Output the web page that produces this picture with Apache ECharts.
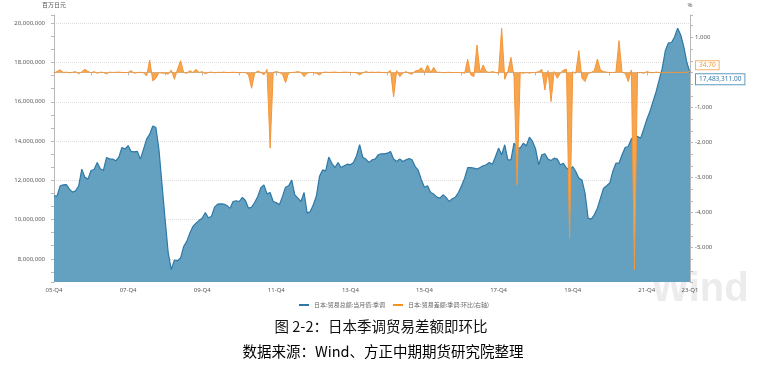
<!DOCTYPE html>
<html><head><meta charset="utf-8">
<script src="https://cdn.jsdelivr.net/npm/echarts@6.0.0/dist/echarts.min.js"></script>
<style>html,body{margin:0;padding:0;background:#fff}#c{width:757px;height:365px}</style>
</head><body><div id="c"></div>
<script>
// 日本:贸易总额:当月值:季调 (百万日元), monthly from 2005-12 to 2023-02
const tradeTotal = [
11210000,11200000,11720000,11770000,11780000,11550000,11400000,11470000,11720000,12570000,
12160000,12060000,12500000,12550000,12910000,12590000,12500000,13160000,13090000,13080000,
12990000,13180000,13670000,13590000,13770000,13470000,13450000,13470000,13080000,13590000,
14100000,14350000,14770000,14690000,13550000,11770000,9990000,8300000,7450000,7940000,
7900000,8040000,8630000,8890000,9310000,9650000,9820000,9960000,10070000,10360000,
10090000,10160000,10630000,10790000,10800000,10790000,10720000,10570000,10920000,10960000,
10920000,11130000,10970000,10580000,10630000,10870000,11180000,11620000,11770000,11310000,
11380000,10920000,10870000,10750000,11180000,11650000,11720000,12010000,11260000,11090000,
10920000,11380000,10330000,10410000,10750000,11210000,12200000,12530000,12480000,13180000,
12870000,12650000,12910000,12650000,12740000,12820000,12790000,12910000,13250000,13810000,
13180000,13080000,12910000,13040000,13080000,13300000,13350000,13350000,13380000,13470000,
13080000,12960000,13090000,12960000,13040000,13110000,13040000,12700000,12500000,12020000,
11650000,11720000,11380000,11300000,11140000,11090000,11260000,11130000,10920000,11060000,
11140000,11380000,11720000,12110000,12650000,12650000,12620000,12570000,12650000,12740000,
12790000,12910000,12820000,13210000,13640000,13300000,13810000,13040000,13040000,13890000,
13670000,13640000,13890000,13760000,14200000,13980000,13590000,12790000,13300000,13350000,
13080000,13010000,13130000,13080000,12790000,12870000,12620000,12530000,12700000,12450000,
12110000,12020000,11350000,10070000,10020000,10240000,10580000,11090000,11600000,11720000,
11860000,12450000,12870000,12870000,13300000,13670000,13720000,14100000,14270000,14230000,
14150000,14600000,15100000,15500000,16000000,16500000,17100000,17700000,18600000,19000000,
19020000,19300000,19750000,19400000,18800000,18000000,17483311
];
// 日本:贸易差额:季调:环比 (%), right axis
const balanceMoM = [
-20,30,76,0,10,-10,5,24,-40,20,
90,30,-10,24,-24,10,0,-40,10,0,
5,10,0,-5,0,52,-24,0,5,-10,
-100,355,-242,-166,0,-20,-20,-50,70,-195,
90,337,0,-24,52,0,90,0,24,-40,
0,10,-10,5,0,10,-5,0,5,0,
-10,0,0,-71,-451,-24,43,0,-71,90,
-2160,0,24,0,-50,-290,-10,0,5,24,
0,-119,-20,0,0,-24,-71,0,10,0,
5,10,0,0,10,5,0,0,-10,-71,
-10,24,0,10,0,10,0,-5,0,52,
-698,52,-119,-20,24,-24,-50,43,60,137,
0,214,0,147,0,10,-10,0,5,-5,
0,0,0,-24,375,-71,-119,784,0,214,
24,0,24,0,-20,1258,-195,24,432,-119,
-3206,0,-24,0,-20,0,0,24,90,-500,
52,-832,24,-166,-24,71,90,-4725,20,-24,
622,-166,-261,-30,0,52,385,71,24,10,
0,0,5,907,0,-24,-261,71,-5629,0,
0,-24,24,0,-10,10,0,-10,5,0,
10,0,5,-5,10,0,34.70
];
const seriesNames = ['日本:贸易总额:当月值:季调', '日本:贸易差额:季调:环比(右轴)'];
const leftAxisName = '百万日元';
const rightAxisName = '%';
// month categories: 2005-12 ... 2023-02
const months = tradeTotal.map(function (_, i) {
  const t = 2005 * 12 + 11 + i;
  const y = Math.floor(t / 12), m = t % 12 + 1;
  return y + '-' + (m < 10 ? '0' + m : m);
});
function quarterLabel(s) {
  const y = s.slice(2, 4), m = parseInt(s.slice(5), 10);
  return y + '-Q' + Math.ceil(m / 3);
}
const lastIdx = months.length - 1;

const chart = echarts.init(document.getElementById('c'), null, {renderer: 'canvas'});
const axisGray = '#b8b8b8';
const labelColor = '#595959';
const numFont = 'Noto Sans';
chart.setOption({
  animation: false,
  backgroundColor: '#fff',
  grid: {left: 54, right: 67, top: 15, bottom: 83},
  legend: {
    left: 294, top: 297, itemWidth: 10, itemHeight: 2, itemGap: 8, icon: 'rect',
    textStyle: {fontSize: 6, color: '#666', fontFamily: 'Noto Sans CJK SC'},
    data: seriesNames
  },
  xAxis: {
    type: 'category', data: months, boundaryGap: false,
    axisLine: {lineStyle: {color: axisGray, width: 1}},
    axisTick: {length: 3, lineStyle: {color: axisGray},
      interval: function (i) { return i % 12 === 0 || i === lastIdx; }},
    axisLabel: {fontSize: 6, color: labelColor, margin: 5, fontFamily: numFont,
      interval: function (i) { return i % 24 === 0 || i === lastIdx; },
      formatter: function (v) { return quarterLabel(v); }},
    splitLine: {show: false}
  },
  yAxis: [{
    type: 'value', min: 6820000, max: 20420000, splitNumber: 7,
    name: leftAxisName, nameGap: 7,
    nameTextStyle: {fontSize: 6, color: labelColor, fontFamily: 'Noto Sans CJK SC'},
    axisLine: {show: true, lineStyle: {color: axisGray}},
    axisTick: {show: true, length: 3, lineStyle: {color: axisGray}},
    minorTick: {show: true, splitNumber: 3, length: 3, lineStyle: {color: axisGray}},
    axisLabel: {fontSize: 6, color: labelColor, margin: 9, fontFamily: numFont,
      showMinLabel: false, showMaxLabel: false,
      formatter: function (v) { return Math.round(v).toLocaleString('en-US'); }},
    splitLine: {show: true, showMinLine: false, showMaxLine: false,
      lineStyle: {type: 'dotted', color: '#dcdcdc'}}
  }, {
    type: 'value', min: -5980, max: 1640, splitNumber: 8, position: 'right',
    name: rightAxisName, nameGap: 7,
    nameTextStyle: {fontSize: 6, color: labelColor, fontFamily: numFont},
    axisLine: {show: true, lineStyle: {color: axisGray}},
    axisTick: {show: true, length: 3, lineStyle: {color: axisGray}},
    minorTick: {show: true, splitNumber: 3, length: 3, lineStyle: {color: axisGray}},
    axisLabel: {fontSize: 6, color: labelColor, margin: 5, fontFamily: numFont,
      showMinLabel: false, showMaxLabel: false,
      formatter: function (v) { return v === 0 ? '' : Math.round(v).toLocaleString('en-US'); }},
    splitLine: {show: false}
  }],
  series: [{
    name: seriesNames[0], type: 'line', yAxisIndex: 0, data: tradeTotal,
    symbol: 'none', z: 2,
    lineStyle: {color: '#2f78a6', width: 1.2},
    itemStyle: {color: '#2f78a6'},
    areaStyle: {color: '#64a0bf', opacity: 1, origin: 'start'},
    endLabel: {show: true, distance: 6, offset: [0, 6.5], fontSize: 6.5, color: '#3579a6',
      fontFamily: numFont, backgroundColor: '#fff', borderColor: '#5b9cc4', borderWidth: 1,
      padding: [2, 3, 1, 3],
      formatter: function (p) { return Number(p.value).toLocaleString('en-US', {minimumFractionDigits: 2, maximumFractionDigits: 2}); }}
  }, {
    name: seriesNames[1], type: 'line', yAxisIndex: 1, data: balanceMoM,
    symbol: 'none', z: 3,
    lineStyle: {color: '#f4963a', width: 1},
    itemStyle: {color: '#f7931e'},
    areaStyle: {color: '#f8a64e', opacity: 1},
    endLabel: {show: true, distance: 6, offset: [0, -6], fontSize: 6.5, color: '#f39a3c',
      fontFamily: numFont, backgroundColor: '#fff', borderColor: '#f6b26b', borderWidth: 1,
      padding: [1, 3, 0, 3],
      formatter: function (p) { return Number(p.value).toFixed(2); }}
  }],
  graphic: [{
    type: 'text', x: 700, y: 290, z: -10, silent: true,
    style: {text: 'Wind', font: 'bold 40px "Liberation Sans"', fill: '#ececec',
      align: 'center', verticalAlign: 'middle', textAlign: 'center', textVerticalAlign: 'middle'}
  }, {
    type: 'text', x: 381, y: 326,
    style: {text: '图 2-2：日本季调贸易差额即环比', font: '14.5px "Noto Sans CJK SC"', fill: '#111',
      align: 'center', verticalAlign: 'middle', textAlign: 'center', textVerticalAlign: 'middle'}
  }, {
    type: 'text', x: 383, y: 351,
    style: {text: '{a|数据来源：}{b|Wind}{a|、方正中期期货研究院整理}',
      align: 'center', verticalAlign: 'middle', textAlign: 'center', textVerticalAlign: 'middle',
      rich: {
        a: {fontSize: 14.5, fontFamily: 'Noto Sans CJK SC', color: '#111'},
        b: {fontSize: 14.5, fontFamily: 'Noto Sans CJK SC', color: '#1f3f8f'}
      }}
  }]
});
</script>
</body></html>
